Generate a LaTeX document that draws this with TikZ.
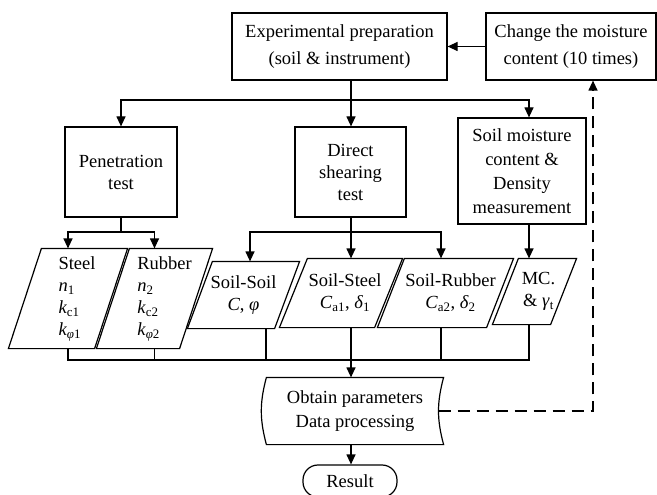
\documentclass[tikz,border=0pt]{standalone}
\usepackage{fontspec}
\setmainfont{Liberation Serif}
\usetikzlibrary{arrows.meta}

\tikzset{
  box/.style={draw, inner sep=0pt, align=center, font=\fontsize{18.5}{24}\selectfont},
  para/.style={inner sep=0pt, align=center, font=\fontsize{18.5}{22}\selectfont},
  arr/.style={-{Triangle[length=10pt,width=9pt]}},
}

\begin{document}
\begin{tikzpicture}[x=1pt, y=-1pt, line width=1.2pt]
  \useasboundingbox (0,0) rectangle (657,495);

  % Define boxes
  \node[box, minimum width=215, minimum height=67, font=\fontsize{18.5}{27}\selectfont] (prep) at (339.5,46.5) {Experimental preparation\\(soil \& instrument)};
  \node[box, minimum width=170, minimum height=67, font=\fontsize{18.5}{27}\selectfont] (change) at (571,46.5) {Change the moisture\\content (10 times)};
  \node[box, minimum width=112, minimum height=90, font=\fontsize{18.5}{22}\selectfont] (pen) at (121,172) {Penetration\\test};
  \node[box, minimum width=111, minimum height=90, font=\fontsize{18.5}{22}\selectfont] (shear) at (350.5,172) {Direct\\shearing\\test};
  \node[box, minimum width=128, minimum height=106] (moist) at (522,171) {Soil moisture\\content \&\\Density\\measurement};

  % Define parameter nodes
  \node[para, minimum width=118, minimum height=99] (steel) at (68,298.5) {\hspace*{18pt}\begin{tabular}{@{}l@{}}Steel\\ \textit{n}\textsubscript{1}\\ \textit{k}\textsubscript{c1}\\ \textit{k}\textsubscript{\textit{φ}1}\end{tabular}};
  \node[para, minimum width=115, minimum height=99] (rubber) at (154.5,298.5) {\hspace*{20pt}\begin{tabular}{@{}l@{}}Rubber\\ \textit{n}\textsubscript{2}\\ \textit{k}\textsubscript{c2}\\ \textit{k}\textsubscript{\textit{φ}2}\end{tabular}};
  \node[para, minimum width=111, minimum height=66] (soilsoil) at (243.5,295) {Soil-Soil\\\textit{C}, \textit{φ}};
  \node[para, minimum width=122, minimum height=68] (soilsteel) at (341,293) {\hspace*{8pt}Soil-Steel\\\hspace*{8pt}\textit{C}\textsubscript{a1}, \textit{δ}\textsubscript{1}};
  \node[para, minimum width=135, minimum height=68] (soilrubber) at (445.5,293) {\hspace*{10pt}Soil-Rubber\\\hspace*{10pt}\textit{C}\textsubscript{a2}, \textit{δ}\textsubscript{2}};
  \node[para, minimum width=83, minimum height=65] (mc) at (534.5,291.5) {\hspace*{8pt}MC.\\\hspace*{8pt}\& \textit{γ}\textsubscript{t}};
  \foreach \n/\s in {steel/33, rubber/33, soilsoil/25, soilsteel/28, soilrubber/27, mc/26}
    \draw (\n.south west) -- ([xshift=\s]\n.north west) -- (\n.north east) -- ([xshift=-\s]\n.south east) -- cycle;

  % Define output nodes
  \node[inner sep=0pt, minimum width=176, minimum height=66, align=center, font=\fontsize{18.5}{24}\selectfont] (obtain) at (355,411) {Obtain parameters\\Data processing};
  \draw (obtain.north west) to[bend right=15] (obtain.south west) -- (obtain.south east) to[bend left=15] (obtain.north east) -- cycle;
  \node[draw, rounded corners=15pt, minimum width=94, minimum height=32, inner sep=0pt, font=\fontsize{18.5}{22}\selectfont] (result) at (350,481) {Result};

  % Draw connectors
  \draw[arr] (change.west) -- (prep.east);
  \coordinate (topbus) at (351,100);
  \draw (prep.south -| topbus) -- (topbus);
  \draw[arr] (topbus) -- (shear.north -| topbus);
  \draw[arr] (topbus) -| (pen.north);
  \draw[arr] (topbus) -| ([xshift=7]moist.north);

  \coordinate (penbus) at (121,232);
  \draw (pen.south) -- (penbus);
  \draw[arr] (penbus) -| (steel.north);
  \draw[arr] (penbus) -| (rubber.north);

  \coordinate (shearbus) at (351,232);
  \draw (shear.south -| shearbus) -- (shearbus);
  \draw[arr] (shearbus) -| ([xshift=6.5]soilsoil.north);
  \draw[arr] (shearbus) -- (soilsteel.north -| shearbus);
  \draw[arr] (shearbus) -| ([xshift=-4.5]soilrubber.north);
  \draw[arr] ([xshift=7]moist.south) -- ([xshift=7]moist.south |- mc.north);

  \coordinate (lowbus) at (351,360);
  \draw (steel.south) |- (lowbus) -| ([xshift=-5.5]mc.south);
  \draw (rubber.south) -- (rubber.south |- lowbus);
  \draw ([xshift=22.5]soilsoil.south) -- ([xshift=22.5]soilsoil.south |- lowbus);
  \draw (soilsteel.south -| lowbus) -- (lowbus);
  \draw ([xshift=-4.5]soilrubber.south) -- ([xshift=-4.5]soilrubber.south |- lowbus);
  \draw[arr] (lowbus) -- (obtain.north -| lowbus);
  \draw[arr] (obtain.south -| lowbus) -- (result.north -| lowbus);
  \draw[arr, dash pattern=on 12pt off 7pt] ([xshift=-5]obtain.east) -| ([xshift=22]change.south);
\end{tikzpicture}
\end{document}
